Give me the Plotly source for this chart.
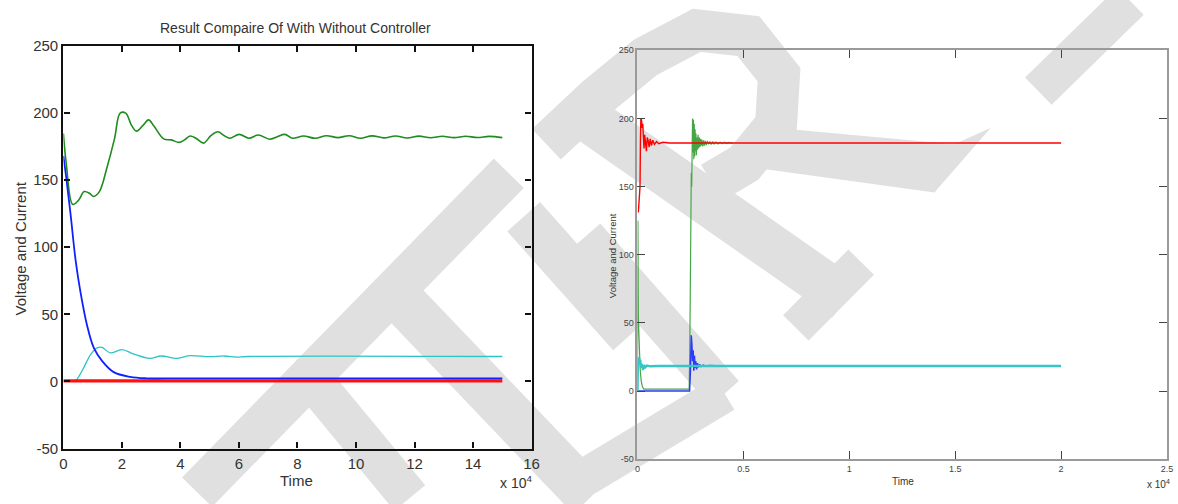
import plotly.graph_objects as go

# ---------------- Left panel: "Result Compaire Of With Without Controller" (Time in x10^4) -------------
left_green_t = [0, 0.1, 0.32, 0.52, 0.71, 0.9, 1.03, 1.23, 1.49, 1.75, 1.94, 2.13, 2.33, 2.5, 2.72, 2.91,
                3.1, 3.43, 3.69, 3.95, 4.14, 4.33, 4.53, 4.79, 5.04, 5.28, 5.5, 5.69, 6.01, 6.34, 6.66,
                7.05, 7.31, 7.57, 7.82, 8.21, 8.6, 8.99, 9.38, 9.77, 10.15, 10.55, 10.95, 11.35, 11.75,
                12.15, 12.55, 12.95, 13.35, 13.75, 14.15, 14.55, 15.0]
left_green_v = [184.6, 161.8, 131.8, 135, 141.4, 140, 137.8, 141.4, 159.4, 181, 199.8, 199.8, 190.7, 186.4,
                190.7, 194.8, 190, 180.6, 179.9, 178, 179.9, 182.8, 181.1, 177.5, 183, 185.9, 183, 181.1,
                184, 181.1, 183.5, 180.4, 182.3, 184, 181.1, 182.8, 181.1, 183, 181.6, 183, 181.1, 182.9,
                181.4, 182.8, 181.3, 182.7, 181.5, 182.6, 181.6, 182.6, 181.7, 182.5, 181.6]

left_blue_t = [0, 0.09, 0.25, 0.42, 0.59, 0.81, 1.04, 1.32, 1.72, 2.28, 2.83, 4.0, 15.0]
left_blue_v = [168, 153, 123.5, 89.8, 65.8, 41.7, 25, 15.4, 7, 3.5, 2.4, 2.3, 2.3]

left_cyan_t = [0, 0.42, 0.56, 0.7, 0.93, 1.15, 1.32, 1.6, 2.0, 2.39, 2.95, 3.35, 3.86, 4.31, 4.99,
               5.5, 5.9, 6.3, 15.0]
left_cyan_v = [0.5, 0.9, 5, 10.5, 20, 25, 25.4, 21.3, 23.7, 20.6, 17.2, 19, 17.2, 19.2, 18.5,
               19, 18.2, 18.6, 18.6]

left_red_t = [0, 15.0]
left_red_v = [0.4, 0.4]

# ---------------- Right panel (Time in x10^4) ----------------
right_red_t = [0.004, 0.006, 0.009, 0.012, 0.014, 0.016, 0.019, 0.022, 0.025, 0.028, 0.031, 0.034,
               0.038, 0.042, 0.046, 0.05, 0.055, 0.06, 0.066, 0.072, 0.08, 0.09, 0.1, 0.12, 0.15, 2.0]
right_red_v = [131, 138, 142, 150, 185, 200, 199, 193, 196, 186, 178, 188, 181, 176, 186, 184, 179,
               185, 180, 184, 181, 183, 181.5, 182.5, 182, 182]

right_green_t = [0.0, 0.002, 0.003, 0.004, 0.006, 0.009, 0.013, 0.018, 0.024, 0.03, 0.1, 0.2, 0.244,
                 0.247, 0.25, 0.252, 0.254, 0.256, 0.258, 0.26, 0.262, 0.264, 0.266, 0.268, 0.27,
                 0.272, 0.274, 0.276, 0.278, 0.28, 0.283, 0.286, 0.289, 0.292, 0.295, 0.298, 0.301,
                 0.304, 0.308, 0.312, 0.316, 0.32, 0.325, 0.33, 0.336, 0.342, 0.348, 0.355, 0.362,
                 0.37, 0.38, 0.39, 0.4, 0.41, 0.42, 0.43, 0.44, 0.45]
right_green_v = [0, 125, 90, 55, 45, 30, 15, 7, 3, 1.5, 1.5, 1.5, 1.5, 30, 100, 128, 160, 150, 172,
                 200, 175, 199, 170, 196, 172, 192, 176, 189, 173, 186, 177, 188, 178, 186, 179, 185,
                 180, 184.5, 179.5, 184, 180, 183.5, 180.5, 183.5, 181, 183, 181, 183, 181.2, 182.8,
                 181.3, 182.6, 181.5, 182.5, 181.6, 182.4, 181.8, 182.1]

right_blue_t = [0, 0.1, 0.2, 0.246, 0.25, 0.254, 0.257, 0.26, 0.263, 0.266, 0.269, 0.272, 0.275,
                0.279, 0.283, 0.288, 0.293, 0.3, 0.31, 0.32, 0.34, 0.37, 0.4, 0.42]
right_blue_v = [0, 0, 0, 0, 15, 41, 34, 22, 30, 15, 26, 17, 22, 16, 20.5, 17.5, 19.5, 18, 19, 18.3,
                18.7, 18.4, 18.5, 18.5]

right_cyan_t = [0, 0.002, 0.004, 0.007, 0.01, 0.013, 0.017, 0.021, 0.026, 0.031, 0.037, 0.045, 0.06,
                0.1, 2.0]
right_cyan_v = [0, 24, 20, 25, 21, 23, 17, 20, 15.5, 19, 17.5, 18.8, 18.2, 18.4, 18.4]

left_xticks = [0, 2, 4, 6, 8, 10, 12, 14, 16]
left_xticklabels = ["0", "2", "4", "6", "8", "10", "12", "14", "16"]
right_xticks = [0, 0.5, 1, 1.5, 2, 2.5]
right_xticklabels = ["0", "0.5", "1", "1.5", "2", "2.5"]
y_ticks = [-50, 0, 50, 100, 150, 200, 250]
y_ticklabels = ["-50", "0", "50", "100", "150", "200", "250"]

W, H = 1178, 504
FONT = "Liberation Sans Narrow, Arial Narrow, Liberation Sans, Arial, sans-serif"

fig = go.Figure()


def add(x, y, color, width, xa, ya, shape="linear"):
    fig.add_trace(go.Scatter(x=x, y=y, mode="lines", line=dict(color=color, width=width, shape=shape),
                             xaxis=xa, yaxis=ya, showlegend=False, hoverinfo="skip"))


# left
add(left_green_t, left_green_v, "#1e8c1e", 1.6, "x", "y", "spline")
add(left_cyan_t, left_cyan_v, "#2cc4c4", 1.3, "x", "y", "spline")
add(left_red_t, left_red_v, "#ff1010", 3.2, "x", "y")
add(left_blue_t, left_blue_v, "#1020ff", 1.8, "x", "y", "spline")
# right
add(right_green_t, right_green_v, "#46a646", 1.2, "x2", "y2")
add(right_blue_t, right_blue_v, "#2a3cf5", 1.5, "x2", "y2")
add(right_cyan_t, right_cyan_v, "#36c6c6", 2.4, "x2", "y2")
add(right_red_t, right_red_v, "#ff0000", 1.4, "x2", "y2")


def px(x):
    return x / W


def py(y):
    return 1 - y / H


# ---------------- Watermark (decorative light-grey strokes, in page pixels) ----------------
wm_color = "#e0e0e0"
wm_lines = [
    (195, 500, 510, 170, 42),
    (525, 215, 632, 338, 44),
    (300, 370, 410, 506, 40),
    (400, 300, 592, 506, 46),
    (588, 235, 728, 398, 38),
    (728, 398, 588, 484, 38),
    (585, 110, 850, 300, 46),
    (800, 330, 866, 262, 36),
    (1045, 85, 1138, -8, 38),
]
shapes = []
for x0, y0, x1, y1, w in wm_lines:
    shapes.append(dict(type="line", xref="paper", yref="paper", x0=px(x0), y0=py(y0), x1=px(x1),
                       y1=py(y1), line=dict(color=wm_color, width=w), layer="below"))
bowl = [(548, 140), (598, 92), (648, 50), (700, 22), (752, 28), (783, 68), (780, 120), (748, 160),
        (715, 180)]
path = "M " + " L ".join(f"{px(a):.5f},{py(b):.5f}" for a, b in bowl)
shapes.append(dict(type="path", xref="paper", yref="paper", path=path,
                   line=dict(color=wm_color, width=42), layer="below"))
leg = [(778, 123), (960, 140), (997, 123), (940, 190), (750, 163)]
path2 = "M " + " L ".join(f"{px(a):.5f},{py(b):.5f}" for a, b in leg) + " Z"
shapes.append(dict(type="path", xref="paper", yref="paper", path=path2, fillcolor=wm_color,
                   line=dict(width=0), layer="below"))

axis_common = dict(showgrid=False, zeroline=False, showline=True, mirror="ticks", ticks="inside")

fig.update_layout(
    width=W, height=H, autosize=False,
    margin=dict(l=0, r=0, t=0, b=0),
    paper_bgcolor="white", plot_bgcolor="rgba(0,0,0,0)",
    font=dict(family=FONT, color="#333333"),
    xaxis=dict(domain=[px(60), px(533)], range=[0, 16], tickvals=left_xticks, ticktext=left_xticklabels,
               anchor="y", linecolor="#111111", linewidth=2.4, ticklen=6, tickwidth=2,
               tickcolor="#111111", tickfont=dict(size=15, color="#333333"), **axis_common),
    yaxis=dict(domain=[py(455), py(38)], range=[-50, 250], tickvals=y_ticks, ticktext=y_ticklabels,
               anchor="x", linecolor="#111111", linewidth=2.4, ticklen=6, tickwidth=2,
               tickcolor="#111111", tickfont=dict(size=15, color="#333333"), **axis_common),
    xaxis2=dict(domain=[px(640), px(1175)], range=[0, 2.5], tickvals=right_xticks,
                ticktext=right_xticklabels, anchor="y2",
                linecolor="#9a9a9a", linewidth=2, ticklen=8, tickwidth=1.3, tickcolor="#444444",
                tickfont=dict(size=9, color="#444444"), **axis_common),
    yaxis2=dict(domain=[py(466), py(42.7)], range=[-50, 250], tickvals=y_ticks, ticktext=y_ticklabels,
                anchor="x2", linecolor="#9a9a9a", linewidth=2, ticklen=8, tickwidth=1.3,
                tickcolor="#444444", tickfont=dict(size=9, color="#444444"), **axis_common),
    shapes=shapes,
)

ann = [
    dict(text="Result Compaire Of With Without Controller", x=px(295), y=py(20), size=14),
    dict(text="Time", x=px(296), y=py(488), size=15),
    dict(text="x 10<sup>4</sup>", x=px(517), y=py(490), size=14),
    dict(text="Voltage and Current", x=px(17), y=py(248), size=15, angle=-90),
    dict(text="Time", x=px(908), y=py(489), size=10),
    dict(text="x 10<sup>4</sup>", x=px(1166), y=py(492), size=10),
    dict(text="Voltage and Current", x=px(615), y=py(255), size=9.5, angle=-90),
]
for a in ann:
    fig.add_annotation(text=a["text"], x=a["x"], y=a["y"], xref="paper", yref="paper",
                       showarrow=False, textangle=a.get("angle", 0),
                       font=dict(size=a["size"], family=FONT, color="#333333"),
                       xanchor="center", yanchor="middle")

fig.write_html("out.html")
